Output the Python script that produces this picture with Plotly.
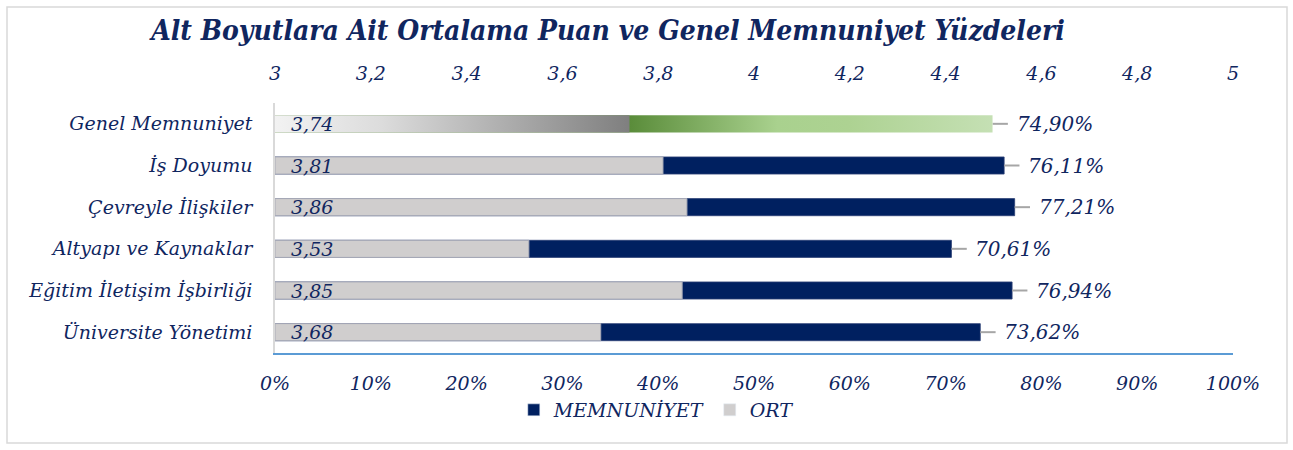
import plotly.graph_objects as go

# ---- data (top to bottom as in the chart) ----
categories = ["Genel Memnuniyet", "İş Doyumu", "Çevreyle İlişkiler",
              "Altyapı ve Kaynaklar", "Eğitim İletişim İşbirliği", "Üniversite Yönetimi"]
ort = [3.74, 3.81, 3.86, 3.53, 3.85, 3.68]
memnuniyet = [74.90, 76.11, 77.21, 70.61, 76.94, 73.62]
err_plus = [1.6, 1.6, 1.6, 1.6, 1.6, 1.6]
top_ticks = [3, 3.2, 3.4, 3.6, 3.8, 4, 4.2, 4.4, 4.6, 4.8, 5]
top_labels = ["3", "3,2", "3,4", "3,6", "3,8", "4", "4,2", "4,4", "4,6", "4,8", "5"]
bottom_ticks = [0, 10, 20, 30, 40, 50, 60, 70, 80, 90, 100]
bottom_labels = ["0%", "10%", "20%", "30%", "40%", "50%", "60%", "70%", "80%", "90%", "100%"]

NAVY = "#002060"
GRAY = "#D0CECE"
TXT = "#10265F"
FONT = "DejaVu Serif"
BW = 0.41

pos = list(range(len(categories)))
fig = go.Figure()

# MEMNUNİYET bars (bottom axis); first one drawn with gradient polygon
mem_colors = ["rgba(0,0,0,0)"] + [NAVY] * (len(categories) - 1)
mem_lines = [0] + [0.8] * (len(categories) - 1)
fig.add_trace(go.Bar(
    y=pos, x=memnuniyet, orientation="h", width=BW,
    marker=dict(color=mem_colors, line=dict(color="#2B3F75", width=mem_lines)),
    error_x=dict(type="data", array=err_plus, arrayminus=[0] * len(categories),
                 symmetric=False, color="#A6A6A6", thickness=2, width=0),
    xaxis="x", yaxis="y", showlegend=False, hoverinfo="x+y",
))
# gradient green bar for Genel Memnuniyet
p0 = pos[0]
fig.add_trace(go.Scatter(
    x=[0, memnuniyet[0], memnuniyet[0], 0, 0],
    y=[p0 - BW / 2, p0 - BW / 2, p0 + BW / 2, p0 + BW / 2, p0 - BW / 2],
    mode="lines", line=dict(width=0), fill="toself",
    fillgradient=dict(type="horizontal",
                      colorscale=[[0, "#548235"], [0.494, "#5A8C3A"], [0.70, "#A9D18E"],
                                  [0.80, "#ADD292"], [1, "#C5E0B4"]]),
    xaxis="x", yaxis="y", showlegend=False, hoverinfo="skip",
))

# ORT bars (top axis, overlaying)
ort_colors = ["rgba(0,0,0,0)"] + [GRAY] * (len(categories) - 1)
ort_lines = [0] + [1] * (len(categories) - 1)
fig.add_trace(go.Bar(
    y=pos, x=[v - 3 for v in ort], base=3, orientation="h", width=BW,
    marker=dict(color=ort_colors, line=dict(color="#A9ABB8", width=ort_lines)),
    xaxis="x2", yaxis="y", showlegend=False, hoverinfo="skip",
))
fig.add_trace(go.Scatter(
    x=[3, ort[0], ort[0], 3, 3],
    y=[p0 - BW / 2, p0 - BW / 2, p0 + BW / 2, p0 + BW / 2, p0 - BW / 2],
    mode="lines", line=dict(width=0), fill="toself",
    fillgradient=dict(type="horizontal",
                      colorscale=[[0, "#F2F2F2"], [0.3, "#DCDCDC"], [1, "#7F7F7F"]]),
    xaxis="x2", yaxis="y", showlegend=False, hoverinfo="skip",
))

# legend entries
fig.add_trace(go.Bar(x=[None], y=[None], name="MEMNUNİYET", marker_color=NAVY,
                     xaxis="x", yaxis="y"))
fig.add_trace(go.Bar(x=[None], y=[None], name="ORT", marker_color=GRAY,
                     xaxis="x", yaxis="y"))

annotations = []
for p, o, m in zip(pos, ort, memnuniyet):
    annotations.append(dict(x=3, y=p, xref="x2", yref="y", text=f"{o:.2f}".replace(".", ","),
                            showarrow=False, xanchor="left", xshift=14,
                            font=dict(family=FONT, size=19, color=TXT, style="italic")))
    annotations.append(dict(x=m, y=p, xref="x", yref="y", text=f"{m:.2f}".replace(".", ",") + "%",
                            showarrow=False, xanchor="left", xshift=22,
                            font=dict(family=FONT, size=20, color=TXT, style="italic")))

tick_font = dict(family=FONT, size=19, color=TXT, style="italic")

fig.update_layout(
    width=1293, height=450,
    margin=dict(l=275, r=60, t=103, b=97),
    paper_bgcolor="white", plot_bgcolor="white",
    barmode="overlay",
    title=dict(text="<b>Alt Boyutlara Ait Ortalama Puan ve Genel Memnuniyet Yüzdeleri</b>",
               x=0.3476, xref="paper", xanchor="center",
               y=1 - 30 / 450, yref="container", yanchor="middle",
               font=dict(family="DejaVu Serif Condensed, DejaVu Serif", size=28,
                         color=TXT, style="italic")),
    xaxis=dict(range=[0, 100], tickvals=bottom_ticks, ticktext=bottom_labels,
               showgrid=False, zeroline=False, showline=True, linecolor="#5B9BD5",
               linewidth=2, ticks="", ticklabelstandoff=12, tickfont=tick_font,
               fixedrange=True),
    xaxis2=dict(range=[3, 5], tickvals=top_ticks, ticktext=top_labels,
                overlaying="x", side="top",
                showgrid=False, zeroline=False, showline=False, ticks="",
                ticklabelstandoff=18, tickfont=tick_font, fixedrange=True),
    yaxis=dict(range=[5.5, -0.5], tickvals=pos, ticktext=categories,
               showgrid=False, zeroline=False, showline=True, linecolor="#D9D9D9",
               linewidth=1.5, ticks="", ticklabelstandoff=17, tickfont=tick_font,
               fixedrange=True),
    legend=dict(orientation="h", x=0.398, xanchor="center", y=-0.228, yanchor="middle",
                font=dict(family=FONT, size=19, color=TXT, style="italic"),
                bgcolor="rgba(0,0,0,0)"),
    annotations=annotations,
    shapes=[dict(type="rect", xref="paper", yref="paper",
                 x0=(7 - 275) / 958, x1=(1287 - 275) / 958,
                 y0=(353 - 443) / 250, y1=(353 - 7) / 250,
                 line=dict(color="#D9D9D9", width=1.5), fillcolor="rgba(0,0,0,0)",
                 layer="below")],
)

fig.write_html("out.html", config={"displayModeBar": False},
               post_script="document.body.style.margin='0';")
